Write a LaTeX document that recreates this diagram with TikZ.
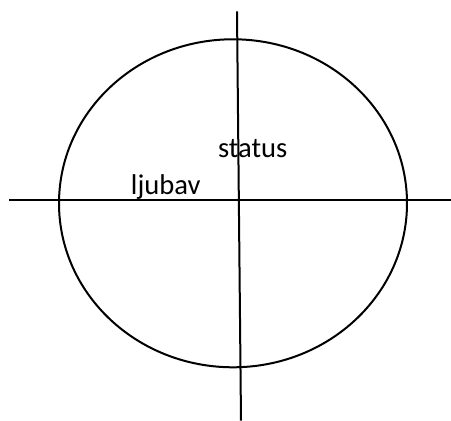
\documentclass[tikz,border=0pt]{standalone}
\usepackage{fontspec}
\setmainfont{Carlito}
\usepackage{tikz}
\usetikzlibrary{positioning}
\definecolor{ink}{HTML}{000000}

\begin{document}
\begin{tikzpicture}[x=0.5pt,y=-0.5pt,line width=1pt,font=\fontsize{14.3}{17}\selectfont]
        \useasboundingbox (0,0) rectangle (451,421);
        % ellipse
        \draw[ink] (233,203.3) ellipse [x radius=174,y radius=164];
        % axes
        \coordinate (xl) at (9,200.3);
        \coordinate (xr) at (451,200.3);
        \coordinate (yt) at (237,11.3);
        \coordinate (yb) at (241,420.7);
        \draw[ink] (xl) -- (xr);
        \draw[ink] (yt) -- (yb);
        % labels
        \node[anchor=base west,inner sep=0pt,text=ink] (status) at (217,157.3) {status};
        \node[anchor=base west,inner sep=0pt,text=ink] (ljubav) at (130,195) {ljubav};
      \end{tikzpicture}
\end{document}
